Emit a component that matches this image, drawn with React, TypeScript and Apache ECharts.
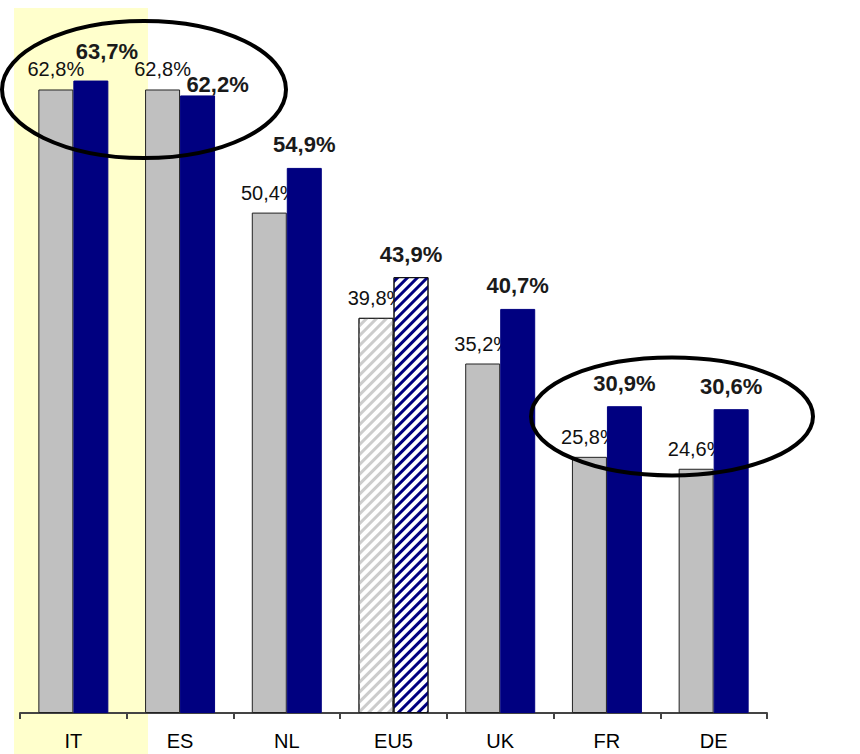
import React, { useEffect, useRef } from "react";
import * as echarts from "echarts";

const categories = ["IT", "ES", "NL", "EU5", "UK", "FR", "DE"];
const greyValues = [62.8, 62.8, 50.4, 39.8, 35.2, 25.8, 24.6];
const blueValues = [63.7, 62.2, 54.9, 43.9, 40.7, 30.9, 30.6];
const hatchedCategory = "EU5";

const fmt = (v: number) => v.toFixed(1).replace(".", ",") + "%";

export default function App() {
  const ref = useRef<HTMLDivElement>(null);
  useEffect(() => {
    if (!ref.current) return;
    const chart = echarts.init(ref.current, null, { renderer: "svg" });
    const font = "'Liberation Sans', Arial, sans-serif";

    const greyData = greyValues.map((v, i) => {
      if (categories[i] === hatchedCategory) {
        return {
          value: v,
          itemStyle: {
            color: "#ffffff",
            decal: {
              symbol: "rect",
              symbolSize: 1,
              dashArrayX: [1, 0],
              dashArrayY: [3, 3.5],
              rotation: -Math.PI / 4,
              color: "#cccccc",
            },
          },
        };
      }
      return { value: v };
    });

    const blueLabelOffsets: Record<string, number[]> = {
      IT: [16, -6],
      ES: [20, 12],
    };

    const blueData = blueValues.map((v, i) => {
      const item: any = { value: v };
      if (categories[i] === hatchedCategory) {
        item.itemStyle = {
          color: "#ffffff",
          borderColor: "#111",
          decal: {
            symbol: "rect",
            symbolSize: 1,
            dashArrayX: [1, 0],
            dashArrayY: [3, 3.5],
            rotation: -Math.PI / 4,
            color: "#000080",
          },
        };
      }
      const off = blueLabelOffsets[categories[i]];
      if (off) item.label = { offset: off };
      return item;
    });

    chart.setOption({
      animation: false,
      backgroundColor: "#ffffff",
      grid: { left: 20, right: 93, top: 18, bottom: 41 },
      xAxis: {
        type: "category",
        data: categories,
        axisLine: { lineStyle: { color: "#444", width: 2 } },
        axisTick: { show: true, length: 6, lineStyle: { color: "#444", width: 2 } },
        axisLabel: {
          color: "#000",
          fontSize: 20,
          fontFamily: font,
          margin: 18,
        },
      },
      yAxis: {
        type: "value",
        min: 0,
        max: 70,
        show: false,
        splitLine: { show: false },
      },
      graphic: [
        {
          type: "rect",
          z: -10,
          shape: { x: 14, y: 8, width: 134, height: 746 },
          style: { fill: "#ffffcc" },
          silent: true,
        },
        {
          type: "ellipse",
          z: 100,
          shape: { cx: 144, cy: 89.5, rx: 142, ry: 68.5 },
          style: { fill: "none", stroke: "#000", lineWidth: 4 },
          silent: true,
        },
        {
          type: "ellipse",
          z: 100,
          shape: { cx: 672, cy: 416.5, rx: 141, ry: 59 },
          style: { fill: "none", stroke: "#000", lineWidth: 4 },
          silent: true,
        },
      ],
      series: [
        {
          type: "bar",
          name: "grey",
          data: greyData,
          barWidth: 35,
          barGap: "0%",
          z: 2,
          itemStyle: { color: "#c0c0c0", borderColor: "#222", borderWidth: 1 },
          label: {
            show: true,
            position: "top",
            distance: 10,
            formatter: (p: any) => fmt(p.value),
            color: "#111",
            fontSize: 20,
            fontFamily: font,
          },
        },
        {
          type: "bar",
          name: "blue",
          data: blueData,
          barWidth: 35,
          barGap: "0%",
          z: 3,
          itemStyle: { color: "#000080", borderColor: "#000080", borderWidth: 1 },
          label: {
            show: true,
            position: "top",
            distance: 12,
            formatter: (p: any) => fmt(p.value),
            color: "#1a1a1a",
            fontSize: 22,
            fontWeight: "bold",
            fontFamily: font,
          },
        },
      ],
    });
    return () => chart.dispose();
  }, []);
  return (
    <div
      ref={ref}
      style={{ position: "absolute", left: 0, top: 0, width: 860, height: 754 }}
    />
  );
}
